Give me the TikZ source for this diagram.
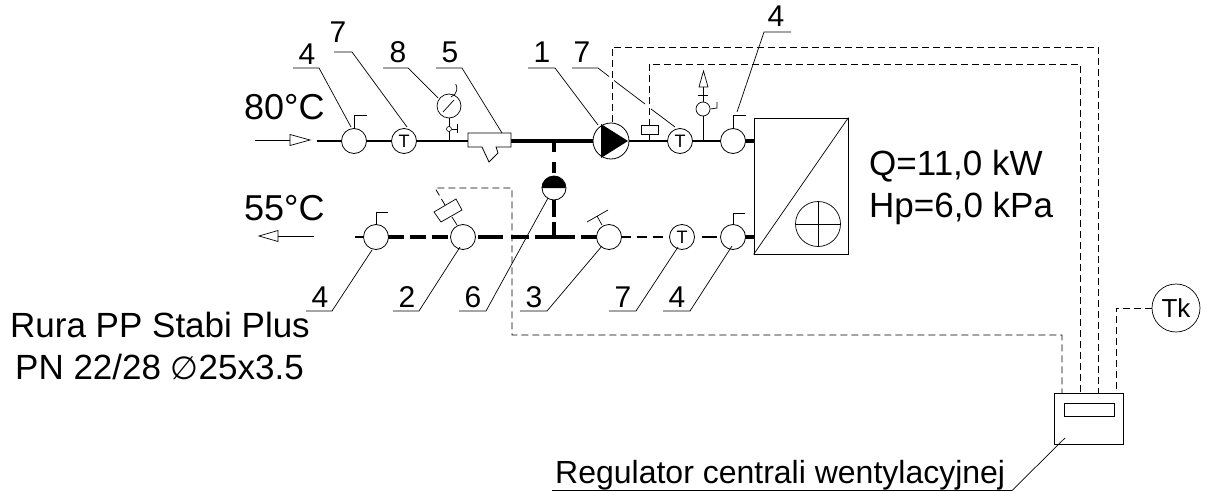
\documentclass[tikz,border=0pt]{standalone}
\usepackage{fontspec}
\setmainfont{Liberation Sans}
\newfontfamily\symfont{DejaVu Sans}
\tikzset{
  fitting/.style={circle, draw, fill=white, inner sep=0pt, minimum size=25pt, line width=0.8pt},
  lbl/.style={anchor=base, inner sep=0pt, font=\fontsize{30}{30}\selectfont},
  txt/.style={anchor=base west, inner sep=0pt, font=\fontsize{35}{35}\selectfont},
  leader/.style={line width=0.7pt},
  sig/.style={line width=0.8pt, dash pattern=on 7pt off 4pt},
  pipemid/.style={line width=1.6pt},
  pipethick/.style={line width=3.6pt},
}
\begin{document}
\begin{tikzpicture}[x=1pt, y=-1pt]
	\useasboundingbox (0,0) rectangle (1209,492);
	% heat exchanger and controller
	\node[draw, line width=0.8pt, minimum width=94pt, minimum height=136pt, inner sep=0pt] (HX) at (801,186) {};
	\draw[leader] (HX.south west) -- (HX.north east);
	\node[circle, draw, line width=0.7pt, minimum size=45pt, inner sep=0pt] (F) at (818,224) {};
	\draw[leader] (F.north) -- (F.south) (F.west) -- (F.east);
	\node[draw, line width=0.7pt, minimum width=69pt, minimum height=51pt, inner sep=0pt] (REG) at (1088.5,418.5) {};
	\node[draw, line width=0.7pt, minimum width=50pt, minimum height=13pt, inner sep=0pt] (DISP) at (1089,409.5) {};
	\node[circle, draw, line width=0.7pt, minimum size=48pt, inner sep=0pt] (TK) at (1176,308) {\fontsize{26}{26}\selectfont Tk};

	% signal lines
	\draw[sig] (612,122) -- (612,47) -- (1098,47) -- (1098,393);
	\draw[sig] (649,126) -- (649,64) -- (1080,64) -- (1080,393);
	\draw[sig] (445,205) -- (435,188) -- (512,188) -- (512,335) -- (1062,335) -- (1062,393);
	\draw[sig] (TK.west) -- (1116,308) -- (1116,393);

	% supply pipe
	\draw[pipemid] (317,141) -- (468,141);
	\draw[pipethick] (511,141) -- (593,141);
	\draw[pipemid] (629,141) -- (721,141);
	\draw[pipethick] (745,141) -- (754,141);
	% bypass
	\draw[pipethick, dash pattern=on 11pt off 10pt] (554,141) -- (554,176);
	\draw[pipethick, dash pattern=on 17pt off 5pt] (554,200) -- (554,237);
	% return pipe
	\draw[pipemid] (355,237) -- (364,237);
	\draw[pipethick, dash pattern=on 16pt off 6pt] (388,237) -- (451,237);
	\draw[pipethick, dash pattern=on 25pt off 8pt on 18pt off 6pt on 40pt off 6pt] (478,237) -- (597,237);
	\draw[pipemid, dash pattern=on 10pt off 6pt] (621,237) -- (670,237);
	\draw[pipemid] (702,237) -- (717,237);
	\draw[pipethick] (745,237) -- (754,237);

	% fittings on the pipes
	\node[fitting] (V1) at (354,141) {};
	\node[fitting] (T1) at (404,141) {\fontsize{18}{18}\selectfont T};
	\node[fitting, minimum size=36pt] (P) at (611,141) {};
	\node[fitting] (T2) at (680,141) {\fontsize{18}{18}\selectfont T};
	\node[fitting] (V2) at (733,141) {};
	\node[fitting] (V3) at (376,237) {};
	\node[fitting] (V4) at (463,237) {};
	\node[fitting] (V5) at (609,237) {};
	\node[fitting] (T3) at (682,237) {\fontsize{18}{18}\selectfont T};
	\node[fitting] (V6) at (733,237) {};
	\node[fitting, minimum size=24pt] (B) at (554,188) {};
	\fill (B.west) arc[start angle=180, end angle=0, radius=12pt] -- cycle;
	\fill (601,124) -- (628,141) -- (601,158) -- cycle;

	% flags
	\draw[leader] (V1.north) -- (354,115) -- (367,115);
	\draw[leader] (V2.north) -- (733,115) -- (746,115);
	\draw[leader] (V3.north) -- (376,212) -- (388,212);
	\draw[leader] (V6.north) -- (733,213) -- (745,213);

	% strainer
	\draw[line width=0.8pt, fill=white] (468,133) -- (511,133) -- (511,147) -- (496,147) -- (498,153) -- (489,162) -- (482,147) -- (468,147) -- cycle;
	% gauge
	\node[circle, draw, line width=0.7pt, minimum size=24pt, inner sep=0pt] (G) at (449,106) {};
	\draw[leader] (G.south) -- (449,141);
	\node[circle, draw, fill=white, line width=0.6pt, minimum size=5pt, inner sep=0pt] (GV) at (449,129) {};
	\draw[leader] (GV.east) -- (457,129) (457,124) -- (457,133);
	\draw[leader] (443,112) -- (454,100);
	\draw[leader] (451,97) arc[start angle=-70, end angle=30, radius=9pt];
	% actuator on T line
	\node[draw, fill=white, line width=0.7pt, minimum width=17pt, minimum height=9pt, inner sep=0pt] (ACT) at (649.5,130) {};
	\draw[leader] (ACT.south) -- (649.5,141);
	% vent
	\node[circle, draw, line width=0.7pt, minimum size=14pt, inner sep=0pt] (AV) at (703,109) {};
	\draw[line width=0.8pt] (AV.south) -- (703,141);
	\draw[leader] (AV.east) -- (717,108) -- (717,102);
	\draw[leader] (AV.north) -- (703,87) (698,95) -- (708,95);
	\draw[leader] (699,87) -- (708,87) -- (703.5,71) -- cycle;
	% motor on valve 2
	\draw[leader] (452,217) -- (457,225);
	\draw[line width=0.7pt, fill=white] (434,212) -- (456,199) -- (462,210) -- (441,222) -- cycle;
	% handle on valve 3
	\draw[leader] (597,216) -- (602,225) (587,222) -- (608,210);

	% leaders, upper
	\draw[leader] (293,68) -- (319,68) -- (351,127);
	\draw[leader] (334,52) -- (352,52) -- (407,127);
	\draw[leader] (383,68) -- (408,68) -- (438,98);
	\draw[leader] (436,68) -- (462,68) -- (502,133);
	\draw[leader] (528,68) -- (555,68) -- (598,125);
	\draw[leader] (572,68) -- (598,68) -- (609,76.5);
	\draw[leader] (614,80.5) -- (645,104);
	\draw[leader] (651,109) -- (675,127);
	\draw[leader] (791,32) -- (764,32) -- (737,112);
	% leaders, lower
	\draw[leader] (372,250) -- (332,311) -- (306,311);
	\draw[leader] (460,247) -- (419,311) -- (393,311);
	\draw[leader] (548,198) -- (486,311) -- (459,311);
	\draw[leader] (602,246) -- (547,311) -- (520,311);
	\draw[leader] (678,247) -- (636,311) -- (609,311);
	\draw[leader] (732,246) -- (690,311) -- (663,311);
	\draw[leader] (1065,438) -- (1012,490.5) -- (552,490.5);

	% numbers
	\node[lbl] (n4a) at (307,65) {4};
	\node[lbl] (n7a) at (338,43) {7};
	\node[lbl] (n8) at (398,63) {8};
	\node[lbl] (n5) at (450,63) {5};
	\node[lbl] (n1) at (542,63) {1};
	\node[lbl] (n7b) at (582,63) {7};
	\node[lbl] (n4b) at (776,27) {4};
	\node[lbl] (n4c) at (320,307) {4};
	\node[lbl] (n2) at (407,307) {2};
	\node[lbl] (n6) at (473,307) {6};
	\node[lbl] (n3) at (534,307) {3};
	\node[lbl] (n7c) at (623,307) {7};
	\node[lbl] (n4d) at (677,307) {4};

	% flow arrows and texts
	\coordinate (a1) at (255,140);
	\coordinate (a2) at (290,140);
	\draw[leader] (a1) -- (a2);
	\draw[leader] (290,134.5) -- (310,140) -- (290,145.5) -- cycle;
	\coordinate (b1) at (314,236);
	\coordinate (b2) at (278,236);
	\draw[leader] (b1) -- (b2);
	\draw[leader] (278,230.5) -- (259,236) -- (278,241.5) -- cycle;
	\node[txt, font=\fontsize{36}{36}\selectfont] (tin) at (244,120) {80°C};
	\node[txt, font=\fontsize{36}{36}\selectfont] (tout) at (244,220) {55°C};
	\node[txt] (tq) at (869,175) {Q=11,0 kW};
	\node[txt] (thp) at (869,217) {Hp=6,0 kPa};
	\node[txt] (tr1) at (10,337) {Rura PP Stabi Plus};
	\node[txt] (tr2) at (15,379) {PN 22/28 {\symfont\fontsize{32}{32}\selectfont ∅}25x3.5};
	\node[txt, font=\fontsize{32}{32}\selectfont] (treg) at (555,483) {Regulator centrali wentylacyjnej};
\end{tikzpicture}
\end{document}
